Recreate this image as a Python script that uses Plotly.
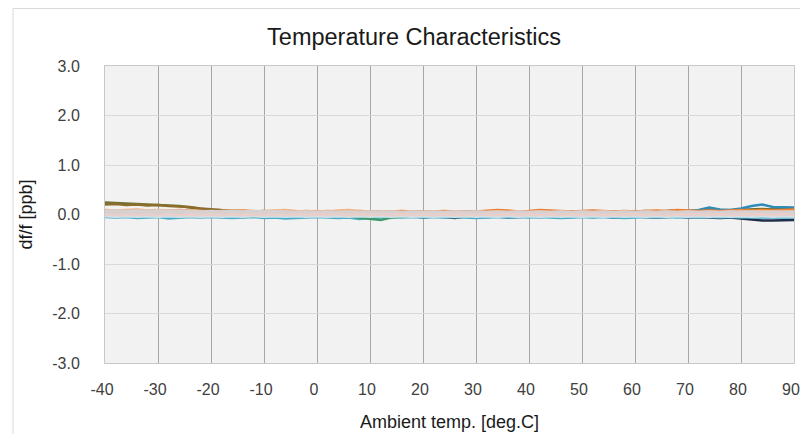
import plotly.graph_objects as go

# Ambient temperature sampling points [deg.C]
temps = [-40, -38, -36, -34, -32, -30, -28, -26, -24, -22, -20,
         -18, -16, -14, -12, -10, -8, -6, -4, -2, 0,
         2, 4, 6, 8, 10, 12, 14, 16, 18, 20,
         22, 24, 26, 28, 30, 32, 34, 36, 38, 40,
         42, 44, 46, 48, 50, 52, 54, 56, 58, 60,
         62, 64, 66, 68, 70, 72, 74, 76, 78, 80,
         82, 84, 86, 88, 90]

# Tick positions and labels
x_tickvals = [-40, -30, -20, -10, 0, 10, 20, 30, 40, 50, 60, 70, 80, 90]
x_ticktext = ["-40", "-30", "-20", "-10", "0", "10", "20", "30", "40", "50", "60", "70", "80", "90"]
y_tickvals = [-3, -2, -1, 0, 1, 2, 3]
y_ticktext = ["-3.0", "-2.0", "-1.0", "0.0", "1.0", "2.0", "3.0"]

# df/f [ppb] for each sample
s_navy = [-0.03, -0.04, -0.03, -0.05, -0.04, -0.03, -0.04, -0.05, -0.03, -0.04, -0.03,
          -0.04, -0.03, -0.05, -0.04, -0.03, -0.04, -0.03, -0.05, -0.04, -0.03,
          -0.04, -0.03, -0.04, -0.05, -0.03, -0.04, -0.05, -0.04, -0.03, -0.06,
          -0.04, -0.05, -0.07, -0.04, -0.03, -0.05, -0.04, -0.06, -0.05, -0.04,
          -0.05, -0.04, -0.06, -0.05, -0.04, -0.05, -0.04, -0.06, -0.05, -0.04,
          -0.05, -0.06, -0.05, -0.04, -0.06, -0.05, -0.06, -0.07, -0.06, -0.08,
          -0.11, -0.12, -0.12, -0.12, -0.11]
s_olive = [0.24, 0.23, 0.22, 0.22, 0.21, 0.20, 0.19, 0.17, 0.14, 0.11, 0.09,
           0.08, 0.07, 0.06, 0.06, 0.05, 0.05, 0.06, 0.05, 0.04, 0.05,
           0.06, 0.05, 0.07, 0.06, 0.05, 0.05, 0.04, 0.05, 0.06, 0.05,
           0.05, 0.04, 0.05, 0.05, 0.06, 0.05, 0.04, 0.05, 0.05, 0.06,
           0.05, 0.05, 0.06, 0.05, 0.04, 0.05, 0.06, 0.06, 0.05, 0.06,
           0.07, 0.06, 0.07, 0.08, 0.07, 0.08, 0.09, 0.08, 0.09, 0.10,
           0.10, 0.11, 0.10, 0.11, 0.12]
s_brown = [0.20, 0.21, 0.19, 0.20, 0.18, 0.19, 0.17, 0.16, 0.15, 0.12, 0.10,
           0.09, 0.08, 0.07, 0.06, 0.07, 0.05, 0.05, 0.06, 0.04, 0.04,
           0.05, 0.04, 0.05, 0.04, 0.05, 0.04, 0.03, 0.04, 0.05, 0.04,
           0.04, 0.05, 0.04, 0.03, 0.04, 0.05, 0.04, 0.04, 0.05, 0.04,
           0.05, 0.04, 0.05, 0.06, 0.05, 0.04, 0.05, 0.05, 0.06, 0.05,
           0.06, 0.05, 0.06, 0.07, 0.06, 0.07, 0.08, 0.07, 0.08, 0.09,
           0.08, 0.09, 0.10, 0.09, 0.10]
s_teal = [0.05, 0.04, 0.06, 0.05, 0.04, 0.05, 0.06, 0.05, 0.04, 0.05, 0.04,
          0.03, 0.04, 0.05, 0.04, 0.03, 0.04, 0.05, 0.04, 0.03, 0.04,
          0.03, 0.04, 0.03, 0.04, 0.05, 0.03, 0.04, 0.03, 0.04, 0.03,
          0.04, 0.03, 0.04, 0.05, 0.04, 0.03, 0.04, 0.05, 0.04, 0.03,
          0.04, 0.05, 0.04, 0.03, 0.04, 0.05, 0.06, 0.05, 0.04, 0.05,
          0.06, 0.05, 0.07, 0.08, 0.07, 0.09, 0.14, 0.10, 0.09, 0.12,
          0.17, 0.20, 0.15, 0.14, 0.14]
s_green = [-0.02, -0.03, -0.02, -0.03, -0.02, -0.03, -0.02, -0.03, -0.04, -0.03, -0.02,
           -0.03, -0.02, -0.03, -0.04, -0.03, -0.02, -0.03, -0.02, -0.03, -0.02,
           -0.03, -0.02, -0.04, -0.06, -0.09, -0.11, -0.06, -0.04, -0.03, -0.02,
           -0.03, -0.02, -0.03, -0.04, -0.03, -0.02, -0.03, -0.02, -0.03, -0.02,
           -0.03, -0.02, -0.03, -0.02, -0.03, -0.02, -0.03, -0.02, -0.03, -0.02,
           -0.03, -0.02, -0.03, -0.02, -0.03, -0.02, -0.03, -0.02, -0.03, -0.02,
           -0.03, -0.02, -0.03, -0.02, -0.03]
s_cyan = [-0.05, -0.06, -0.05, -0.07, -0.06, -0.05, -0.08, -0.06, -0.05, -0.06, -0.05,
          -0.06, -0.07, -0.06, -0.05, -0.07, -0.06, -0.08, -0.07, -0.06, -0.05,
          -0.06, -0.07, -0.06, -0.09, -0.07, -0.06, -0.05, -0.06, -0.05, -0.06,
          -0.05, -0.06, -0.05, -0.06, -0.07, -0.06, -0.05, -0.06, -0.05, -0.06,
          -0.05, -0.06, -0.07, -0.06, -0.05, -0.06, -0.05, -0.06, -0.07, -0.06,
          -0.05, -0.06, -0.05, -0.06, -0.05, -0.06, -0.05, -0.06, -0.05, -0.06,
          -0.06, -0.05, -0.06, -0.05, -0.06]
s_orange = [0.07, 0.06, 0.08, 0.07, 0.06, 0.08, 0.07, 0.09, 0.08, 0.07, 0.06,
            0.07, 0.06, 0.08, 0.07, 0.06, 0.07, 0.08, 0.06, 0.07, 0.06,
            0.07, 0.06, 0.05, 0.07, 0.06, 0.05, 0.06, 0.07, 0.06, 0.05,
            0.06, 0.07, 0.06, 0.05, 0.06, 0.07, 0.09, 0.08, 0.06, 0.07,
            0.09, 0.08, 0.07, 0.06, 0.07, 0.08, 0.07, 0.06, 0.07, 0.06,
            0.07, 0.08, 0.07, 0.09, 0.08, 0.07, 0.08, 0.07, 0.08, 0.09,
            0.08, 0.09, 0.08, 0.09, 0.10]
s_peach = [0.09, 0.08, 0.09, 0.10, 0.08, 0.09, 0.08, 0.07, 0.08, 0.07, 0.06,
           0.07, 0.08, 0.07, 0.06, 0.07, 0.08, 0.09, 0.07, 0.06, 0.07,
           0.06, 0.08, 0.09, 0.07, 0.06, 0.05, 0.06, 0.05, 0.06, 0.05,
           0.06, 0.05, 0.06, 0.05, 0.06, 0.05, 0.06, 0.05, 0.06, 0.05,
           0.06, 0.05, 0.06, 0.05, 0.06, 0.05, 0.06, 0.05, 0.06, 0.05,
           0.06, 0.05, 0.06, 0.05, 0.06, 0.05, 0.06, 0.05, 0.06, 0.07,
           0.06, 0.07, 0.06, 0.07, 0.06]
s_gray = [0.03, 0.02, 0.03, 0.02, 0.03, 0.02, 0.03, 0.02, 0.03, 0.02, 0.03,
          0.02, 0.03, 0.02, 0.03, 0.02, 0.03, 0.02, 0.03, 0.02, 0.01,
          0.02, 0.01, 0.02, 0.03, 0.02, 0.01, 0.02, 0.01, 0.02, 0.01,
          0.02, 0.01, 0.02, 0.01, 0.02, 0.01, 0.02, 0.01, 0.02, 0.01,
          0.02, 0.01, 0.02, 0.01, 0.02, 0.01, 0.02, 0.01, 0.02, 0.01,
          0.02, 0.01, 0.02, 0.01, 0.02, 0.01, 0.02, 0.01, 0.02, 0.01,
          0.02, 0.01, 0.02, 0.01, 0.02]
s_lgray = [0.06, 0.07, 0.06, 0.07, 0.06, 0.07, 0.06, 0.07, 0.06, 0.05, 0.06,
           0.05, 0.06, 0.05, 0.06, 0.05, 0.06, 0.05, 0.04, 0.05, 0.04,
           0.05, 0.04, 0.05, 0.04, 0.05, 0.04, 0.05, 0.04, 0.05, 0.04,
           0.05, 0.04, 0.05, 0.04, 0.05, 0.04, 0.05, 0.04, 0.05, 0.04,
           0.05, 0.04, 0.05, 0.04, 0.05, 0.04, 0.05, 0.04, 0.05, 0.04,
           0.05, 0.04, 0.05, 0.04, 0.05, 0.04, 0.05, 0.04, 0.05, 0.04,
           0.05, 0.04, 0.05, 0.04, 0.05]
s_pink = [0.00, -0.01, 0.00, -0.01, 0.00, -0.01, 0.00, -0.01, 0.00, -0.01, 0.00,
          -0.01, 0.00, -0.01, 0.00, -0.01, 0.00, -0.01, 0.00, -0.01, 0.00,
          -0.01, 0.00, -0.01, 0.00, -0.01, 0.00, -0.01, 0.00, -0.01, 0.00,
          -0.01, 0.00, -0.01, 0.00, -0.01, 0.00, -0.01, 0.00, -0.01, 0.00,
          -0.01, 0.00, -0.01, 0.00, -0.01, 0.00, -0.01, 0.00, -0.01, 0.00,
          -0.01, 0.00, -0.01, 0.00, -0.01, 0.00, -0.01, 0.00, -0.01, 0.00,
          -0.01, 0.00, -0.01, 0.00, -0.01]
s_lcyan = [-0.03, -0.04, -0.03, -0.04, -0.03, -0.04, -0.03, -0.04, -0.03, -0.04, -0.03,
           -0.04, -0.03, -0.04, -0.03, -0.04, -0.03, -0.04, -0.03, -0.04, -0.03,
           -0.04, -0.03, -0.04, -0.03, -0.04, -0.03, -0.04, -0.03, -0.04, -0.03,
           -0.04, -0.03, -0.04, -0.03, -0.04, -0.03, -0.04, -0.03, -0.04, -0.03,
           -0.04, -0.03, -0.04, -0.03, -0.04, -0.03, -0.04, -0.03, -0.04, -0.03,
           -0.04, -0.03, -0.04, -0.03, -0.04, -0.03, -0.04, -0.03, -0.04, -0.03,
           -0.04, -0.03, -0.04, -0.03, -0.04]

series = [
    (s_navy, "#1f2d4d", 2.5),
    (s_cyan, "#4bacc6", 2.5),
    (s_green, "#3d9a6a", 2.5),
    (s_olive, "#6b7434", 2.5),
    (s_brown, "#8c6d2c", 2.5),
    (s_teal, "#2f8cb8", 2.5),
    (s_orange, "#ed7d31", 2.5),
    (s_peach, "#f4b183", 2.5),
    (s_lcyan, "#cfe3ea", 3),
    (s_gray, "#c9c9c9", 3.5),
    (s_lgray, "#d6d0d0", 3.5),
    (s_pink, "#e8cfcb", 3),
]

fig = go.Figure()
for vals, col, w in series:
    fig.add_trace(go.Scatter(x=temps, y=vals, mode="lines",
                             line=dict(color=col, width=w),
                             showlegend=False, hoverinfo="skip"))

# The page body adds an 8 px margin on every side; the figure fits inside it.
W, H = 792, 426
L, R, T, B = 97, 6, 58, 71
pw, ph = W - L - R, H - T - B

def px_x(p):
    return (p - L) / pw

def px_y(p):
    return (H - B - p) / ph

fig.update_layout(
    width=W, height=H,
    margin=dict(l=L, r=R, t=T, b=B, autoexpand=False),
    paper_bgcolor="white",
    plot_bgcolor="#f2f2f2",
    font=dict(family="Liberation Sans, Arial, sans-serif", size=16, color="#404040"),
    title=dict(text="Temperature Characteristics", x=406 / W, xanchor="center",
               y=1 - 29 / H, yanchor="middle", xref="container", yref="container",
               font=dict(size=23.5, color="#1a1a1a")),
    xaxis=dict(range=[-40, 90], tickmode="array", tickvals=x_tickvals, ticktext=x_ticktext,
               showgrid=True, gridcolor="#a6a6a6", gridwidth=1, zeroline=False,
               showline=True, linecolor="#c8c8c8", mirror=True, automargin=False,
               ticks="", ticklabelstandoff=12, ticklabelshift=-3,
               ticklabeloverflow="allow",
               title=dict(text="Ambient temp. [deg.C]", standoff=18,
                          font=dict(size=18, color="#1a1a1a"))),
    yaxis=dict(range=[-3, 3], tickmode="array", tickvals=y_tickvals, ticktext=y_ticktext,
               showgrid=True, gridcolor="#d9d9d9", gridwidth=1, zeroline=False,
               showline=True, linecolor="#c8c8c8", mirror=True, automargin=False,
               ticks="", ticklabelstandoff=21,
               title=dict(text="df/f [ppb]", standoff=14,
                          font=dict(size=18, color="#1a1a1a"))),
    shapes=[dict(type="rect", xref="paper", yref="paper",
                 x0=px_x(5), x1=px_x(800), y0=px_y(440), y1=px_y(0.5),
                 line=dict(color="#d9d9d9", width=1), fillcolor="rgba(0,0,0,0)",
                 layer="below")],
)

fig.write_html("out.html")
